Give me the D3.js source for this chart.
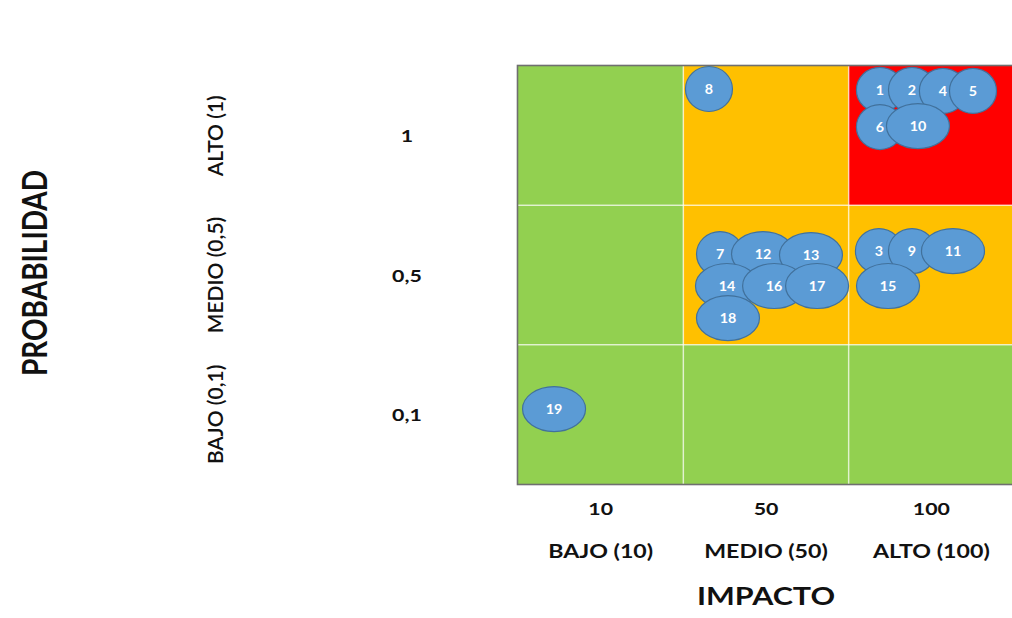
<!DOCTYPE html>
<html>
<head>
<meta charset="utf-8">
<script src="https://cdn.jsdelivr.net/npm/d3@7"></script>
<style>
  html, body { margin: 0; padding: 0; background: #ffffff; }
  svg { display: block; font-family: Lato, "Open Sans", "Liberation Sans", sans-serif; }
</style>
</head>
<body>
<svg id="chart" width="1012" height="618"></svg>
<script>
// ---------- DATA ----------
const impactTicks = ["10", "50", "100"];
const impactLabels = ["BAJO (10)", "MEDIO (50)", "ALTO (100)"];
const probTicks = ["1", "0,5", "0,1"];
const probLabels = ["ALTO (1)", "MEDIO (0,5)", "BAJO (0,1)"];

// risk level per cell, rows = probability (1, 0,5, 0,1), cols = impact (10, 50, 100)
const levelMatrix = [
  ["bajo", "medio", "alto"],
  ["bajo", "medio", "medio"],
  ["bajo", "bajo",  "bajo"]
];

// risks: id, impact category, probability category, position inside the cell (fraction)
const riskIds     = [1, 2, 3, 4, 5, 6, 7, 8, 9, 10, 11, 12, 13, 14, 15, 16, 17, 18, 19];
const riskImpact  = ["100","100","100","100","100","100","50","50","100","100","100","50","50","50","100","50","50","50","10"];
const riskProb    = ["1","1","0,5","1","1","1","0,5","1","0,5","1","0,5","0,5","0,5","0,5","0,5","0,5","0,5","0,5","0,1"];
const riskCellX   = [0.189,0.383,0.183,0.570,0.752,0.189,0.222,0.155,0.383,0.419,0.631,0.482,0.772,0.264,0.238,0.549,0.809,0.270,0.218];
const riskCellY   = [0.172,0.172,0.328,0.179,0.179,0.438,0.350,0.165,0.328,0.431,0.328,0.350,0.357,0.579,0.579,0.579,0.579,0.809,0.462];

// ---------- LAYOUT ----------
const svg = d3.select("#chart");
const gLeft = 518, gRight = 1014, gTop = 66, gBottom = 484;
const stretch = 1.22; // horizontal stretch of the lettering

const x = d3.scaleBand().domain(impactTicks).range([gLeft, gRight]).paddingInner(0).paddingOuter(0);
const y = d3.scaleBand().domain(probTicks).range([gTop, gBottom]).paddingInner(0).paddingOuter(0);

const levelColor = d3.scaleOrdinal().domain(["bajo", "medio", "alto"]).range(["#92D050", "#FFC000", "#FF0000"]);

// cells
const cells = [];
probTicks.forEach((p, r) => impactTicks.forEach((i, c) => cells.push({ p, i, level: levelMatrix[r][c] })));

svg.append("g").selectAll("rect").data(cells).join("rect")
  .attr("x", d => x(d.i))
  .attr("y", d => y(d.p))
  .attr("width", x.bandwidth())
  .attr("height", y.bandwidth())
  .attr("fill", d => levelColor(d.level));

// inner white grid lines
const grid = svg.append("g").attr("stroke", "#ffffff").attr("stroke-opacity", 0.65).attr("stroke-width", 1.5);
impactTicks.slice(1).forEach(i => grid.append("line")
  .attr("x1", x(i)).attr("x2", x(i)).attr("y1", gTop).attr("y2", gBottom));
probTicks.slice(1).forEach(p => grid.append("line")
  .attr("x1", gLeft).attr("x2", gRight).attr("y1", y(p)).attr("y2", y(p)));

// outer border
svg.append("rect")
  .attr("x", gLeft - 0.5).attr("y", gTop - 0.5)
  .attr("width", gRight - gLeft + 1).attr("height", gBottom - gTop + 1)
  .attr("fill", "none").attr("stroke", "#6f6f6f").attr("stroke-width", 1.6);

// ---------- BUBBLES ----------
const risks = riskIds.map((id, k) => ({
  id, impact: riskImpact[k], prob: riskProb[k], fx: riskCellX[k], fy: riskCellY[k]
}));

const bubbles = svg.append("g").selectAll("g").data(risks).join("g")
  .attr("transform", d => `translate(${x(d.impact) + d.fx * x.bandwidth()},${y(d.prob) + d.fy * y.bandwidth()})`);

bubbles.append("ellipse")
  .attr("rx", d => String(d.id).length > 1 ? 31.5 : 23.5)
  .attr("ry", 22.5)
  .attr("fill", "#5B9BD5")
  .attr("stroke", "#41719C")
  .attr("stroke-width", 1.2);

bubbles.append("text")
  .attr("transform", "scale(1.1,1)")
  .attr("text-anchor", "middle")
  .attr("dy", "0.36em")
  .attr("fill", "#ffffff")
  .attr("font-weight", "bold")
  .attr("font-size", 13)
  .text(d => d.id);

// ---------- AXES TEXT ----------
function hText(g, cx, cy, size, weight, txt) {
  g.append("text")
    .attr("transform", `translate(${cx},${cy}) scale(${stretch},1)`)
    .attr("text-anchor", "middle")
    .attr("font-weight", weight)
    .attr("font-size", size)
    .attr("fill", "#111")
    .text(txt);
}

const xAxisG = svg.append("g");
impactTicks.forEach(t => hText(xAxisG, x(t) + x.bandwidth() / 2, 515, 17.5, "bold", t));
impactLabels.forEach((t, k) => hText(xAxisG, x(impactTicks[k]) + x.bandwidth() / 2, 558, 19, "bold", t));
hText(xAxisG, x("50") + x.bandwidth() / 2, 605, 25, "bold", "IMPACTO");

const yAxisG = svg.append("g");
probTicks.forEach(t => hText(yAxisG, 407, y(t) + y.bandwidth() / 2 + 6.5, 17.5, "bold", t));

// y category labels (rotated)
yAxisG.selectAll("text.cat").data(probLabels).join("text")
  .attr("class", "cat")
  .attr("transform", (d, k) => `translate(223,${y(probTicks[k]) + y.bandwidth() / 2}) rotate(-90)`)
  .attr("text-anchor", "middle")
  .attr("font-size", 21)
  .attr("font-weight", 600)
  .attr("fill", "#111")
  .text(d => d);

svg.append("text")
  .attr("transform", `translate(47,273) scale(${stretch},1) rotate(-90)`)
  .attr("text-anchor", "middle")
  .attr("font-weight", "bold")
  .attr("font-size", 28)
  .attr("fill", "#111")
  .text("PROBABILIDAD");
</script>
</body>
</html>
